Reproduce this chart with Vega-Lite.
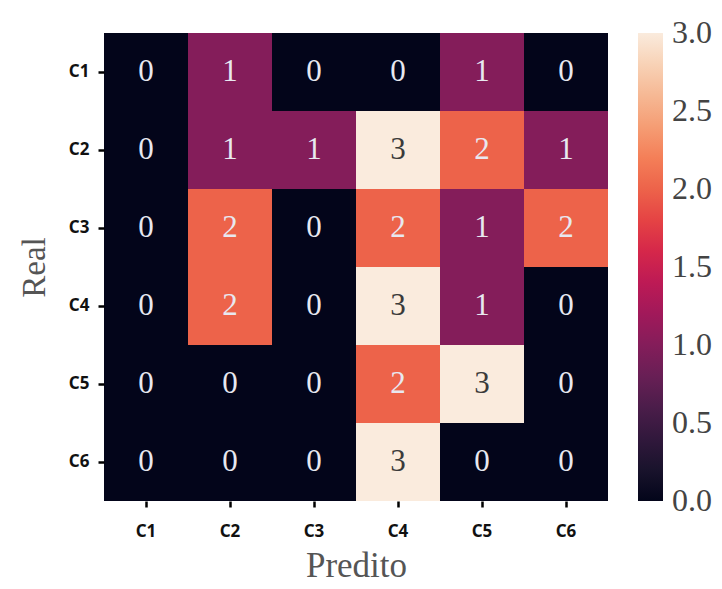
{
  "$schema": "https://vega.github.io/schema/vega-lite/v6.json",
  "autosize": {"type": "none"},
  "padding": {"left": 104, "top": 33, "right": 114, "bottom": 88},
  "width": 504,
  "height": 468,
  "background": "#ffffff",
  "config": {"view": {"stroke": null}},
  "data": {
    "values": [
      {"real": "C1", "pred": "C1", "v": 0}, {"real": "C1", "pred": "C2", "v": 1}, {"real": "C1", "pred": "C3", "v": 0}, {"real": "C1", "pred": "C4", "v": 0}, {"real": "C1", "pred": "C5", "v": 1}, {"real": "C1", "pred": "C6", "v": 0},
      {"real": "C2", "pred": "C1", "v": 0}, {"real": "C2", "pred": "C2", "v": 1}, {"real": "C2", "pred": "C3", "v": 1}, {"real": "C2", "pred": "C4", "v": 3}, {"real": "C2", "pred": "C5", "v": 2}, {"real": "C2", "pred": "C6", "v": 1},
      {"real": "C3", "pred": "C1", "v": 0}, {"real": "C3", "pred": "C2", "v": 2}, {"real": "C3", "pred": "C3", "v": 0}, {"real": "C3", "pred": "C4", "v": 2}, {"real": "C3", "pred": "C5", "v": 1}, {"real": "C3", "pred": "C6", "v": 2},
      {"real": "C4", "pred": "C1", "v": 0}, {"real": "C4", "pred": "C2", "v": 2}, {"real": "C4", "pred": "C3", "v": 0}, {"real": "C4", "pred": "C4", "v": 3}, {"real": "C4", "pred": "C5", "v": 1}, {"real": "C4", "pred": "C6", "v": 0},
      {"real": "C5", "pred": "C1", "v": 0}, {"real": "C5", "pred": "C2", "v": 0}, {"real": "C5", "pred": "C3", "v": 0}, {"real": "C5", "pred": "C4", "v": 2}, {"real": "C5", "pred": "C5", "v": 3}, {"real": "C5", "pred": "C6", "v": 0},
      {"real": "C6", "pred": "C1", "v": 0}, {"real": "C6", "pred": "C2", "v": 0}, {"real": "C6", "pred": "C3", "v": 0}, {"real": "C6", "pred": "C4", "v": 3}, {"real": "C6", "pred": "C5", "v": 0}, {"real": "C6", "pred": "C6", "v": 0}
    ]
  },
  "encoding": {
    "x": {
      "field": "pred", "type": "nominal", "sort": ["C1", "C2", "C3", "C4", "C5", "C6"],
      "scale": {"paddingInner": 0, "paddingOuter": 0},
      "axis": {
        "title": "Predito", "labelAngle": 0, "domain": false,
        "tickColor": "#000", "tickWidth": 2.5, "tickSize": 6,
        "labelFont": "Noto Sans", "labelFontWeight": "bold", "labelFontSize": 17, "labelColor": "#111", "labelPadding": 16,
        "titleFont": "Liberation Serif", "titleFontWeight": "normal", "titleFontSize": 35, "titleColor": "#555", "titlePadding": 9
      }
    },
    "y": {
      "field": "real", "type": "nominal", "sort": ["C1", "C2", "C3", "C4", "C5", "C6"],
      "scale": {"paddingInner": 0, "paddingOuter": 0},
      "axis": {
        "title": "Real", "domain": false,
        "tickColor": "#000", "tickWidth": 2.5, "tickSize": 6,
        "labelFont": "Noto Sans", "labelFontWeight": "bold", "labelFontSize": 17, "labelColor": "#111", "labelPadding": 9,
        "titleFont": "Liberation Serif", "titleFontWeight": "normal", "titleFontSize": 33, "titleColor": "#555", "titlePadding": 17
      }
    }
  },
  "layer": [
    {
      "mark": {"type": "rect", "strokeWidth": 0},
      "encoding": {
        "color": {
          "field": "v", "type": "quantitative",
          "scale": {
            "domain": [0, 0.4286, 0.8571, 1.2857, 1.7143, 2.1429, 2.5714, 3],
            "range": ["#03051a", "#35193e", "#701f57", "#ad1759", "#e13342", "#f37651", "#f6b48f", "#faebdd"]
          },
          "legend": {
            "title": null, "orient": "right", "offset": 30, "padding": 0,
            "gradientLength": 468, "gradientThickness": 25, "gradientStrokeWidth": 0,
            "values": [0, 0.5, 1, 1.5, 2, 2.5, 3], "format": ".1f",
            "labelFont": "Liberation Serif", "labelFontSize": 32, "labelColor": "#444",
            "labelOffset": 9, "labelOverlap": false,
            "encode": {"labels": {"update": {"baseline": {"value": "middle"}}}}
          }
        }
      }
    },
    {
      "mark": {"type": "text", "font": "Liberation Serif", "fontSize": 31},
      "encoding": {
        "text": {"field": "v", "type": "quantitative"},
        "color": {"condition": {"test": "datum.v >= 2.5", "value": "#3a3a3a"}, "value": "#e8e8f0"}
      }
    }
  ]
}
